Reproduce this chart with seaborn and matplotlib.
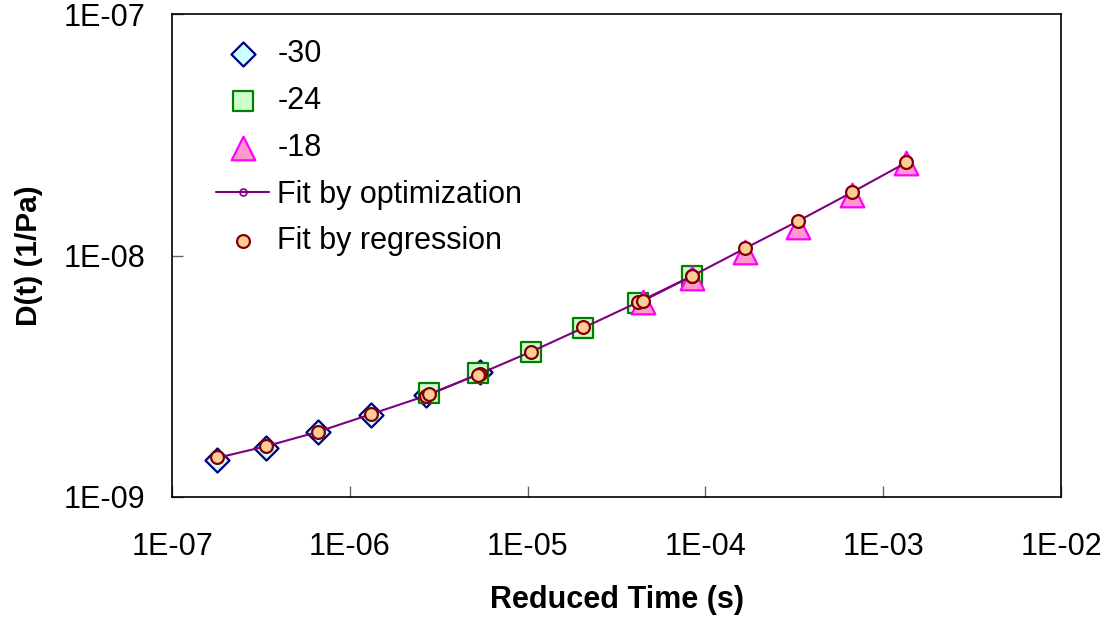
import numpy as np
import matplotlib
matplotlib.use("Agg")
import matplotlib.pyplot as plt
import matplotlib.ticker as mticker
import seaborn as sns

sns.set_theme(style="white")
plt.rcParams['font.family'] = ['Liberation Sans', 'DejaVu Sans']
plt.rcParams['text.color'] = 'black'
plt.rcParams['axes.labelcolor'] = 'black'

# Measured data (reduced time in s, creep compliance in 1/Pa)
t_m30 = [1.78e-7, 3.36e-7, 6.6e-7, 1.31e-6, 2.7e-6, 5.37e-6]
d_m30 = [1.42e-9, 1.59e-9, 1.85e-9, 2.19e-9, 2.64e-9, 3.29e-9]

t_m24 = [2.79e-6, 5.28e-6, 1.05e-5, 2.06e-5, 4.2e-5, 8.4e-5]
d_m24 = [2.70e-9, 3.25e-9, 4.0e-9, 4.99e-9, 6.38e-9, 8.25e-9]

t_m18 = [4.44e-5, 8.4e-5, 1.67e-4, 3.33e-4, 6.7e-4, 1.34e-3]
d_m18 = [6.44e-9, 8.07e-9, 1.034e-8, 1.31e-8, 1.78e-8, 2.42e-8]

# Fit by regression, evaluated at the same times
reg_m30 = [1.46e-9, 1.63e-9, 1.86e-9, 2.21e-9, 2.62e-9, 3.23e-9]
reg_m24 = [2.67e-9, 3.20e-9, 4.0e-9, 5.04e-9, 6.44e-9, 8.25e-9]
reg_m18 = [6.50e-9, 8.25e-9, 1.071e-8, 1.394e-8, 1.837e-8, 2.43e-8]

# Fit by optimization
opt_m30 = [1.45e-9, 1.62e-9, 1.86e-9, 2.20e-9, 2.63e-9, 3.24e-9]
opt_m24 = [2.66e-9, 3.22e-9, 4.0e-9, 5.02e-9, 6.42e-9, 8.22e-9]
opt_m18 = [6.48e-9, 8.22e-9, 1.07e-8, 1.39e-8, 1.83e-8, 2.42e-8]

x_ticks = [1e-7, 1e-6, 1e-5, 1e-4, 1e-3, 1e-2]
y_ticks = [1e-9, 1e-8, 1e-7]

fig = plt.figure(figsize=(11.09, 6.19), dpi=100)
ax = fig.add_axes([172 / 1109, 1 - 497 / 619, 889 / 1109, 483 / 619])

sns.scatterplot(x=t_m30, y=d_m30, marker='D', s=150, color='#CCFFFF', edgecolor='#000080',
                linewidth=1.6, label='-30', ax=ax, zorder=3)
sns.scatterplot(x=t_m24, y=d_m24, marker='s', s=190, color='#CCFFCC', edgecolor='#008000',
                linewidth=1.6, label='-24', ax=ax, zorder=3)
sns.scatterplot(x=t_m18, y=d_m18, marker='^', s=290, color='#FF99CC', edgecolor='#FF00FF',
                linewidth=1.6, label='-18', ax=ax, zorder=3)

for i, (tt, dd) in enumerate([(t_m30, opt_m30), (t_m24, opt_m24), (t_m18, opt_m18)]):
    sns.lineplot(x=tt, y=dd, color='#800080', linewidth=1.5, marker='o', markersize=5,
                 markerfacecolor='none', markeredgecolor='#800080', markeredgewidth=1.2,
                 label='Fit by optimization' if i == 0 else None, ax=ax, zorder=4)

t_reg = t_m30 + t_m24 + t_m18
d_reg = reg_m30 + reg_m24 + reg_m18
sns.scatterplot(x=t_reg, y=d_reg, marker='o', s=85, color='#FFCC99', edgecolor='#800000',
                linewidth=1.6, label='Fit by regression', ax=ax, zorder=5)

ax.set_xscale('log')
ax.set_yscale('log')
ax.set_xlim(1e-7, 1e-2)
ax.set_ylim(1e-9, 1e-7)
ax.set_xticks(x_ticks)
ax.set_yticks(y_ticks)
ax.xaxis.set_minor_locator(mticker.NullLocator())
ax.yaxis.set_minor_locator(mticker.NullLocator())
fmt = mticker.FuncFormatter(lambda v, p: "1E-%02d" % round(-np.log10(v)))
ax.xaxis.set_major_formatter(fmt)
ax.yaxis.set_major_formatter(fmt)
ax.tick_params(axis='both', which='major', direction='in', length=8, width=1,
               color='#666666', labelsize=22, labelcolor='black')
ax.tick_params(axis='x', pad=25, bottom=True)
ax.tick_params(axis='y', pad=19, left=True)

for s in ax.spines.values():
    s.set_color('black')
    s.set_linewidth(1.2)

ax.set_xlabel('Reduced Time (s)', fontsize=22, fontweight='bold')
ax.set_ylabel('D(t) (1/Pa)', fontsize=21.5, fontweight='bold')
ax.xaxis.set_label_coords(0.5, -0.182)
ax.yaxis.set_label_coords(-0.145, 0.5)

handles, labels = ax.get_legend_handles_labels()
order = ['-30', '-24', '-18', 'Fit by optimization', 'Fit by regression']
hmap = dict(zip(labels, handles))
ax.legend([hmap[k] for k in order], order, loc='upper left', bbox_to_anchor=(0.05, 0.948),
          frameon=False, fontsize=22, borderpad=0, borderaxespad=0, handlelength=1.73,
          handletextpad=0.26, labelspacing=0.55)

fig.savefig('out.png', dpi=100)
